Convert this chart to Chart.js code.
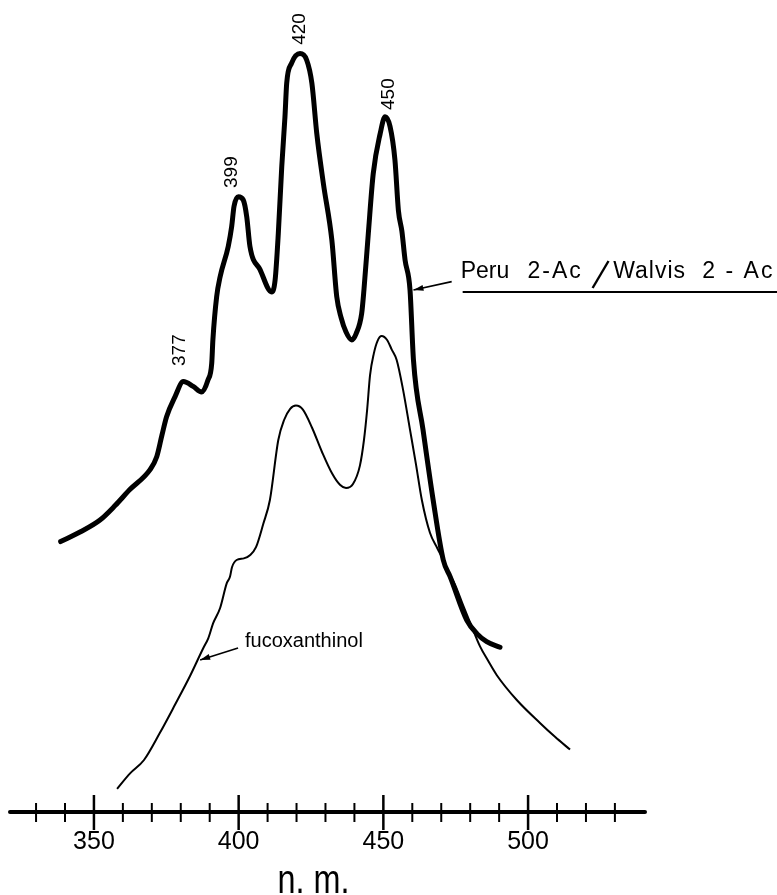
<!DOCTYPE html>
<html>
<head>
<meta charset="utf-8">
<script src="https://cdn.jsdelivr.net/npm/chart.js@4/dist/chart.umd.min.js"></script>
<style>
  html, body { margin: 0; padding: 0; background: #fff; }
  canvas { display: block; }
</style>
</head>
<body>
<canvas id="myChart" width="777" height="895"></canvas>
<script>
// wavelength (nm) and relative absorbance
let nmAc = [338.5, 345.2, 352.1, 357.3, 362.4, 369.4, 371.7, 373.5, 375.1, 378.0, 380.9, 384.3, 387.2, 389.4, 390.7, 391.1,
  392.4, 393.6, 396.4, 397.6, 398.4, 399.9, 401.6, 402.8, 403.9, 407.4, 411.4, 412.6, 413.7, 414.9, 416.0, 416.6,
  418.3, 421.2, 423.5, 425.3, 427.0, 429.3, 432.2, 433.9, 435.4, 437.1, 439.1, 440.6, 442.5, 443.3, 444.8, 446.5,
  448.9, 450.6, 452.3, 454.0, 455.2, 456.4, 457.5, 459.2, 460.4, 463.7, 467.2, 470.7, 473.1, 478.8, 482.3, 485.7, 490.3];
let absAc = [0.338, 0.350, 0.365, 0.383, 0.403, 0.428, 0.444, 0.471, 0.494, 0.519, 0.538, 0.532, 0.525, 0.540, 0.561, 0.590,
  0.644, 0.669, 0.707, 0.732, 0.757, 0.769, 0.765, 0.744, 0.707, 0.678, 0.650, 0.665, 0.723, 0.807, 0.869, 0.911,
  0.936, 0.948, 0.940, 0.911, 0.848, 0.785, 0.715, 0.644, 0.618, 0.600, 0.590, 0.598, 0.623, 0.653, 0.723, 0.798,
  0.848, 0.869, 0.857, 0.815, 0.752, 0.726, 0.690, 0.653, 0.565, 0.478, 0.390, 0.315, 0.294, 0.240, 0.223, 0.213, 0.206];

let nmFuco = [358.0, 362.4, 367.3, 372.8, 378.0, 383.2, 387.8, 389.5, 391.2, 393.6, 395.9, 397.0, 397.7, 399.3, 401.8, 403.9,
  406.0, 408.5, 410.8, 413.7, 415.7, 417.8, 419.8, 422.2, 425.4, 428.8, 432.3, 435.0, 437.1, 439.5, 441.9, 443.3,
  444.4, 445.4, 446.7, 448.0, 449.4, 451.3, 452.9, 454.6, 456.8, 459.2, 461.3, 463.3, 466.1, 468.6, 470.7, 472.5,
  474.8, 477.5, 480.5, 483.4, 486.2, 489.2, 496.1, 504.2, 509.3, 514.5];
let absFuco = [0.029, 0.048, 0.065, 0.099, 0.134, 0.170, 0.205, 0.217, 0.236, 0.255, 0.286, 0.294, 0.306, 0.315, 0.317, 0.321,
  0.331, 0.360, 0.390, 0.465, 0.490, 0.504, 0.508, 0.503, 0.480, 0.450, 0.423, 0.409, 0.405, 0.410, 0.433, 0.465,
  0.503, 0.546, 0.573, 0.589, 0.595, 0.590, 0.578, 0.565, 0.528, 0.478, 0.434, 0.390, 0.349, 0.330, 0.315, 0.300,
  0.284, 0.259, 0.232, 0.207, 0.189, 0.171, 0.140, 0.111, 0.094, 0.078];

let peakLabels = ['377', '399', '420', '450'];
let majorTicks = [350, 400, 450, 500];
let minorTicks = [330, 340, 360, 370, 380, 390, 410, 420, 430, 440, 460, 470, 480, 490, 510, 520, 530];
let xMin = 321, xMax = 540.4;

let toPoints = (xs, ys) => xs.map((x, i) => ({ x: x, y: ys[i] }));

function arrow(c, x1, y1, x2, y2) {
  c.beginPath(); c.moveTo(x1, y1); c.lineTo(x2, y2); c.stroke();
  let a = Math.atan2(y2 - y1, x2 - x1);
  c.beginPath();
  c.moveTo(x2, y2);
  c.lineTo(x2 - 10 * Math.cos(a) + 3 * Math.sin(a), y2 - 10 * Math.sin(a) - 3 * Math.cos(a));
  c.lineTo(x2 - 10 * Math.cos(a) - 3 * Math.sin(a), y2 - 10 * Math.sin(a) + 3 * Math.cos(a));
  c.closePath(); c.fill();
}

let drawAxis = {
  id: 'drawAxis',
  afterDraw(chart) {
    let c = chart.ctx, sx = chart.scales.x, sy = chart.scales.y;
    let px = v => sx.getPixelForValue(v), py = v => sy.getPixelForValue(v);
    let y0 = py(0);
    c.save();
    c.strokeStyle = '#000';
    c.fillStyle = '#000';

    // axis line + ticks
    c.lineWidth = 4; c.lineCap = 'round';
    c.beginPath(); c.moveTo(px(xMin), y0); c.lineTo(px(xMax), y0); c.stroke();
    c.lineCap = 'butt';
    c.lineWidth = 2;
    minorTicks.forEach(v => {
      c.beginPath(); c.moveTo(px(v), y0 - 9); c.lineTo(px(v), y0 + 10); c.stroke();
    });
    c.lineWidth = 2.5;
    c.font = '25px "Liberation Sans"';
    c.textAlign = 'center'; c.textBaseline = 'alphabetic';
    majorTicks.forEach(v => {
      c.beginPath(); c.moveTo(px(v), y0 - 17); c.lineTo(px(v), y0 + 18); c.stroke();
      c.fillText(String(v), px(v), y0 + 37);
    });
    c.font = '40px "Liberation Sans"';
    c.fillText('n. m.', (px(xMin) + px(xMax)) / 2 - 14, y0 + 81, 72);

    // peak labels, rotated
    let spots = [[379.15, 0.5575], [397.0, 0.78], [420.5, 0.959], [451.3, 0.8775]];
    c.font = '19px "Liberation Sans"';
    c.textAlign = 'left';
    peakLabels.forEach((t, i) => {
      c.save();
      c.translate(px(spots[i][0]) + 7, py(spots[i][1]));
      c.rotate(-Math.PI / 2);
      c.fillText(t, 0, 0);
      c.restore();
    });

    // upper curve label
    c.font = '23px "Liberation Sans"';
    let base = py(0.6675);
    c.fillText('Peru', px(476.7), base);
    c.letterSpacing = '2px';
    c.fillText('2-Ac', px(499.8), base);
    c.letterSpacing = '1px';
    c.fillText('Walvis', px(529.4), base);
    c.letterSpacing = '2px';
    c.fillText('2 - Ac', px(560.2), base);
    c.letterSpacing = '0px';
    c.lineWidth = 2.4;
    c.beginPath(); c.moveTo(px(522.3), base + 10); c.lineTo(px(527.8), base - 17); c.stroke();
    c.lineWidth = 2;
    c.beginPath(); c.moveTo(px(477.4), base + 14); c.lineTo(777, base + 14); c.stroke();
    c.lineWidth = 1.6;
    arrow(c, px(473.6), py(0.663), px(460.4), py(0.6525));

    // lower curve label
    c.font = '20px "Liberation Sans"';
    c.textBaseline = 'middle';
    c.fillText('fucoxanthinol', px(402.2), py(0.2137), 128);
    arrow(c, px(399.8), py(0.205), px(386.7), py(0.19));
    c.restore();
  }
};

let ctx = document.getElementById('myChart').getContext('2d');
let myChart = new Chart(ctx, {
  type: 'line',
  data: {
    datasets: [{
      label: 'Peru 2-Ac / Walvis 2-Ac',
      data: toPoints(nmAc, absAc),
      borderColor: '#000',
      borderWidth: 5,
      borderCapStyle: 'round',
      pointRadius: 0,
      cubicInterpolationMode: 'monotone',
      fill: false
    }, {
      label: 'fucoxanthinol',
      data: toPoints(nmFuco, absFuco),
      borderColor: '#000',
      borderWidth: 2,
      pointRadius: 0,
      cubicInterpolationMode: 'monotone',
      fill: false
    }]
  },
  options: {
    responsive: false,
    animation: false,
    layout: { padding: { left: 10, right: 132, top: 12, bottom: 83 } },
    plugins: { legend: { display: false }, tooltip: { enabled: false } },
    scales: {
      x: { type: 'linear', min: xMin, max: xMax, display: false },
      y: { min: 0, max: 1, display: false }
    }
  },
  plugins: [drawAxis]
});
</script>
</body>
</html>
